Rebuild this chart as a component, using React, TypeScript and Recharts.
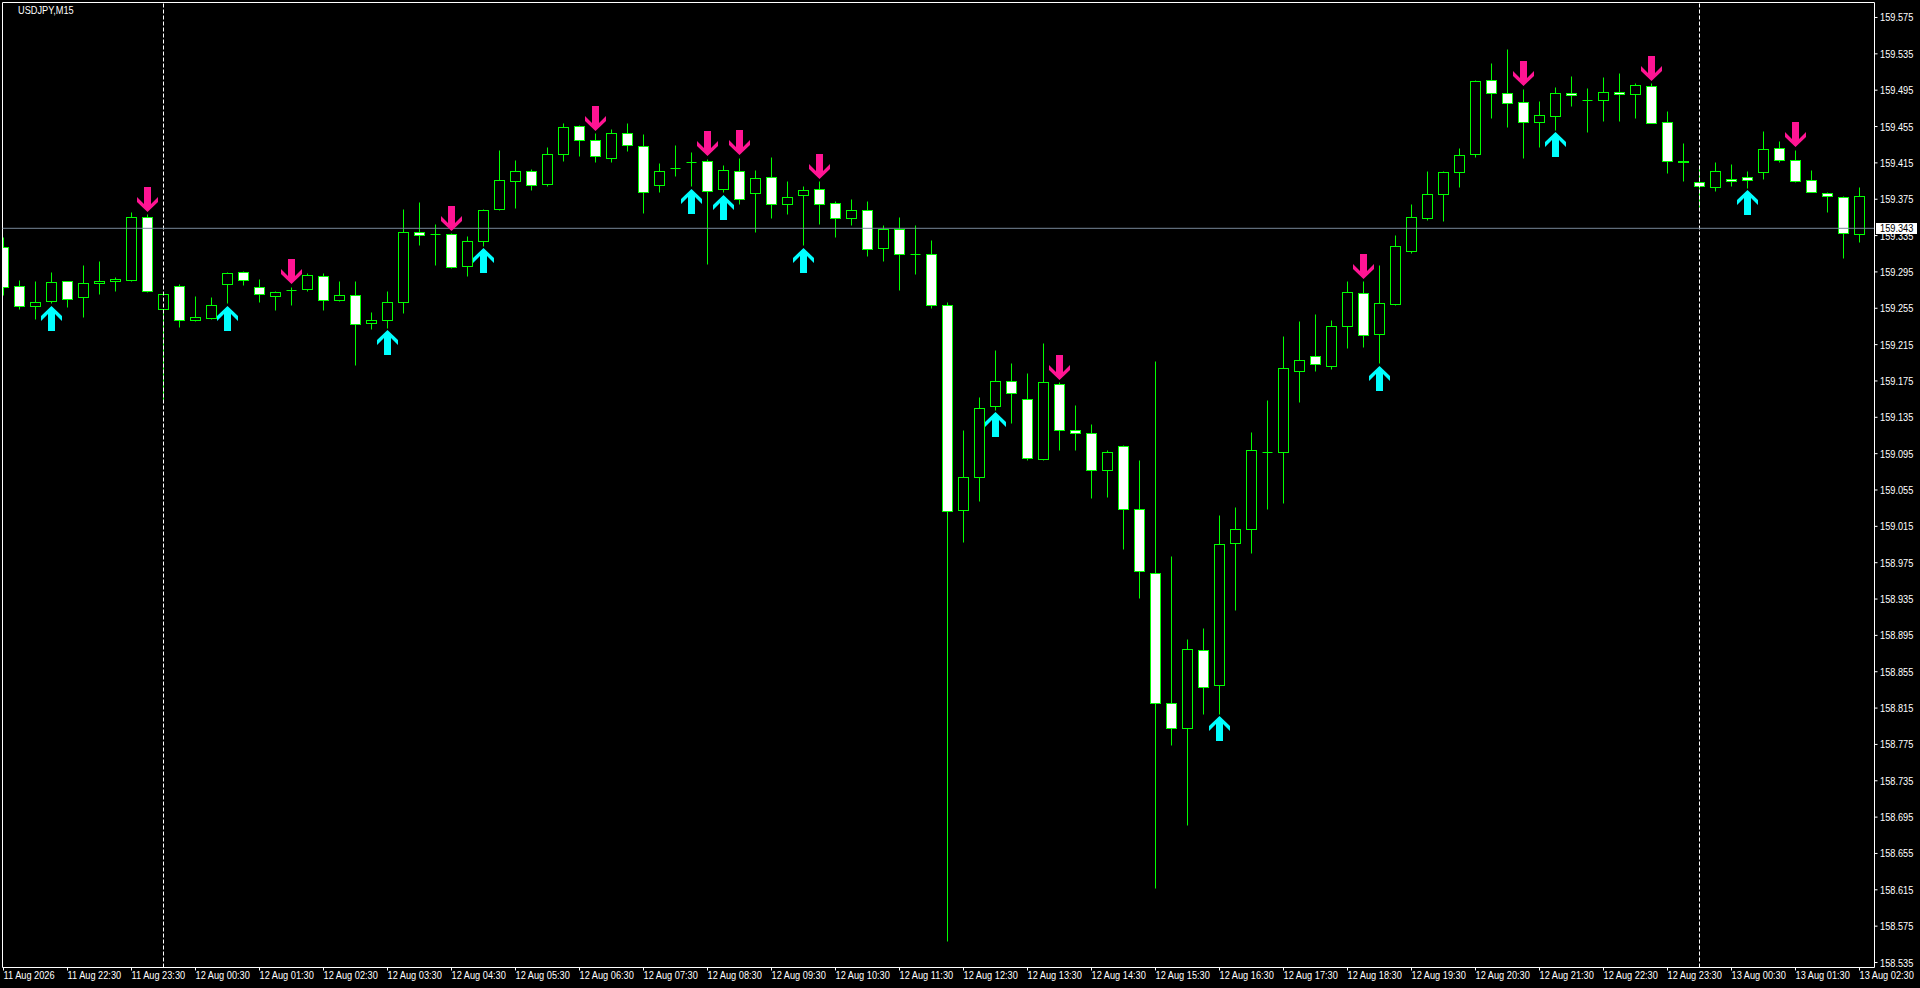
import React from 'react';
import { ComposedChart, Bar, Scatter, XAxis, YAxis, ReferenceLine } from 'recharts';

// USDJPY M15, 11 Aug 21:30 .. 13 Aug 02:30 (one entry per bar)
const OPEN = [
  159.322, 159.279, 159.257, 159.262, 159.284, 159.267, 159.282, 159.285, 159.286, 159.355,
  159.254, 159.279, 159.242, 159.244, 159.281, 159.294, 159.278, 159.268, 159.275, 159.276,
  159.290, 159.264, 159.269, 159.238, 159.241, 159.261, 159.338, 159.336, 159.336, 159.301,
  159.329, 159.364, 159.395, 159.405, 159.391, 159.424, 159.455, 159.440, 159.420, 159.447,
  159.433, 159.390, 159.409, 159.415, 159.416, 159.386, 159.405, 159.381, 159.399, 159.369,
  159.379, 159.386, 159.370, 159.354, 159.363, 159.321, 159.342, 159.314, 159.314, 159.258,
  159.032, 159.069, 159.147, 159.174, 159.155, 159.089, 159.171, 159.120, 159.117, 159.076,
  159.103, 159.033, 158.963, 158.820, 158.793, 158.878, 158.840, 158.996, 159.011, 159.096,
  159.096, 159.185, 159.202, 159.191, 159.235, 159.271, 159.226, 159.259, 159.317, 159.354,
  159.380, 159.404, 159.424, 159.506, 159.491, 159.481, 159.459, 159.466, 159.491, 159.484,
  159.484, 159.492, 159.490, 159.499, 159.459, 159.417, 159.393, 159.388, 159.397, 159.399,
  159.404, 159.431, 159.418, 159.396, 159.381, 159.377, 159.336,
];
const HIGH = [
  159.333, 159.286, 159.284, 159.294, 159.285, 159.302, 159.306, 159.289, 159.360, 159.358,
  159.271, 159.281, 159.268, 159.267, 159.294, 159.295, 159.287, 159.273, 159.278, 159.293,
  159.293, 159.284, 159.284, 159.250, 159.273, 159.364, 159.371, 159.347, 159.337, 159.334,
  159.364, 159.429, 159.418, 159.408, 159.432, 159.458, 159.456, 159.447, 159.452, 159.458,
  159.446, 159.414, 159.434, 159.426, 159.419, 159.412, 159.420, 159.407, 159.421, 159.394,
  159.389, 159.394, 159.373, 159.375, 159.372, 159.346, 159.355, 159.346, 159.330, 159.261,
  159.120, 159.157, 159.208, 159.194, 159.183, 159.216, 159.173, 159.148, 159.127, 159.098,
  159.104, 159.087, 159.196, 158.982, 158.890, 158.903, 159.027, 159.036, 159.118, 159.154,
  159.224, 159.240, 159.248, 159.242, 159.285, 159.284, 159.302, 159.335, 159.369, 159.406,
  159.405, 159.431, 159.506, 159.524, 159.540, 159.496, 159.483, 159.498, 159.510, 159.497,
  159.509, 159.513, 159.502, 159.502, 159.472, 159.436, 159.412, 159.415, 159.413, 159.406,
  159.450, 159.439, 159.429, 159.407, 159.382, 159.378, 159.388,
];
const LOW = [
  159.269, 159.254, 159.243, 159.260, 159.256, 159.245, 159.270, 159.274, 159.284, 159.272,
  159.153, 159.234, 159.240, 159.243, 159.260, 159.280, 159.261, 159.253, 159.258, 159.274,
  159.253, 159.262, 159.192, 159.232, 159.233, 159.249, 159.324, 159.302, 159.299, 159.290,
  159.323, 159.363, 159.365, 159.385, 159.389, 159.417, 159.422, 159.415, 159.415, 159.427,
  159.359, 159.382, 159.400, 159.389, 159.303, 159.382, 159.369, 159.338, 159.354, 159.358,
  159.324, 159.347, 159.333, 159.346, 159.312, 159.307, 159.275, 159.292, 159.255, 158.558,
  158.997, 159.042, 159.143, 159.128, 159.087, 159.088, 159.098, 159.099, 159.046, 159.047,
  158.989, 158.936, 158.616, 158.774, 158.686, 158.808, 158.808, 158.922, 158.985, 159.034,
  159.040, 159.151, 159.185, 159.188, 159.211, 159.212, 159.194, 159.258, 159.315, 159.352,
  159.350, 159.388, 159.421, 159.464, 159.454, 159.420, 159.432, 159.451, 159.477, 159.448,
  159.461, 159.460, 159.464, 159.458, 159.403, 159.395, 159.366, 159.384, 159.389, 159.387,
  159.397, 159.415, 159.393, 159.382, 159.360, 159.310, 159.327,
];
const CLOSE = [
  159.278, 159.257, 159.261, 159.283, 159.265, 159.282, 159.285, 159.287, 159.355, 159.274,
  159.270, 159.242, 159.245, 159.258, 159.293, 159.286, 159.270, 159.272, 159.275, 159.291,
  159.264, 159.269, 159.237, 159.241, 159.261, 159.338, 159.335, 159.336, 159.300, 159.328,
  159.363, 159.396, 159.406, 159.390, 159.424, 159.454, 159.440, 159.422, 159.447, 159.434,
  159.382, 159.406, 159.409, 159.415, 159.384, 159.407, 159.375, 159.398, 159.369, 159.377,
  159.385, 159.369, 159.354, 159.363, 159.320, 159.342, 159.314, 159.314, 159.258, 159.031,
  159.069, 159.145, 159.174, 159.161, 159.090, 159.173, 159.120, 159.117, 159.077, 159.096,
  159.033, 158.965, 158.820, 158.793, 158.879, 158.838, 158.995, 159.012, 159.098, 159.096,
  159.189, 159.197, 159.193, 159.235, 159.272, 159.225, 159.260, 159.323, 159.355, 159.380,
  159.404, 159.423, 159.505, 159.491, 159.480, 159.459, 159.467, 159.491, 159.489, 159.484,
  159.493, 159.490, 159.500, 159.458, 159.416, 159.415, 159.389, 159.405, 159.395, 159.396,
  159.430, 159.418, 159.395, 159.382, 159.378, 159.337, 159.378,
];

// signal arrows (bar index)
const UP_ARROWS = [3, 14, 24, 30, 43, 45, 50, 62, 76, 86, 97, 109];
const DOWN_ARROWS = [9, 18, 28, 37, 44, 46, 51, 66, 85, 95, 103, 112];

// one label every 4 bars
const TIME_LABELS = [
  '11 Aug 2026', '11 Aug 22:30', '11 Aug 23:30', '12 Aug 00:30', '12 Aug 01:30', '12 Aug 02:30',
  '12 Aug 03:30', '12 Aug 04:30', '12 Aug 05:30', '12 Aug 06:30', '12 Aug 07:30', '12 Aug 08:30',
  '12 Aug 09:30', '12 Aug 10:30', '12 Aug 11:30', '12 Aug 12:30', '12 Aug 13:30', '12 Aug 14:30',
  '12 Aug 15:30', '12 Aug 16:30', '12 Aug 17:30', '12 Aug 18:30', '12 Aug 19:30', '12 Aug 20:30',
  '12 Aug 21:30', '12 Aug 22:30', '12 Aug 23:30', '13 Aug 00:30', '13 Aug 01:30', '13 Aug 02:30',
];

const PRICE_TICKS = [
  159.575, 159.535, 159.495, 159.455, 159.415, 159.375, 159.335, 159.295, 159.255,
  159.215, 159.175, 159.135, 159.095, 159.055, 159.015, 158.975, 158.935, 158.895,
  158.855, 158.815, 158.775, 158.735, 158.695, 158.655, 158.615, 158.575, 158.535,
];

const DAY_SEPARATORS = [10, 106];
const BID = 159.343;

const PRICE_MIN = 158.5295;
const PRICE_MAX = 159.5915;
const X_MIN = -0.0625;
const X_MAX = 116.9375;

const FONT = "'Liberation Sans', Arial, sans-serif";
const GREEN = '#00FF00';

const candles = OPEN.map((o, i) => ({
  i,
  o,
  h: HIGH[i],
  l: LOW[i],
  c: CLOSE[i],
  range: [LOW[i], HIGH[i]],
}));

const upData = UP_ARROWS.map((i) => ({ i, p: LOW[i] }));
const downData = DOWN_ARROWS.map((i) => ({ i, p: HIGH[i] }));
const tickIndex = TIME_LABELS.map((_, k) => k * 4);

const snap = (v: number) => Math.round(v - 0.5) + 0.5;

// terminal-like narrow text
const SText = ({ x, y, fill = '#FFFFFF', children }: any) => (
  <text
    transform={`translate(${x},${y}) scale(0.84,1)`}
    x={0}
    y={0}
    fill={fill}
    fontSize={11}
    fontFamily={FONT}
    textAnchor="start"
  >
    {children}
  </text>
);

const Candle = (props: any) => {
  const { x, y, width, height, payload } = props;
  if (!payload || height == null) return null;
  const top = height >= 0 ? y : y + height;
  const h = Math.abs(height);
  const cx = Math.floor(x + width / 2) + 0.5;
  const py = (p: number) => top + ((payload.h - p) / (payload.h - payload.l)) * h;
  const bull = payload.c > payload.o;
  const bTop = snap(py(Math.max(payload.o, payload.c)));
  const bBot = snap(py(Math.min(payload.o, payload.c)));
  return (
    <g>
      <line x1={cx} x2={cx} y1={snap(top)} y2={snap(top + h)} stroke={GREEN} strokeWidth={1} />
      {bBot - bTop < 1 ? (
        <line x1={cx - 5} x2={cx + 5} y1={bTop} y2={bTop} stroke={GREEN} strokeWidth={1} />
      ) : (
        <rect
          x={cx - 5}
          y={bTop}
          width={10}
          height={bBot - bTop}
          fill={bull ? '#000000' : '#FFFFFF'}
          stroke={GREEN}
          strokeWidth={1}
        />
      )}
    </g>
  );
};

const arrowPoints = (cx: number, tip: number, dir: number) => {
  const pts = [
    [0, 0], [10.5, 10], [10.5, 15], [3.5, 8], [3.5, 25],
    [-3.5, 25], [-3.5, 8], [-10.5, 15], [-10.5, 10],
  ];
  return pts.map(([dx, dy]) => `${cx + dx},${tip + dir * dy}`).join(' ');
};

const UpArrow = (props: any) => {
  const { cx, cy } = props;
  if (cx == null || cy == null) return null;
  const c = Math.floor(cx) + 0.5;
  return <polygon points={arrowPoints(c, Math.round(cy) + 2, 1)} fill="#00FFFF" />;
};

const DownArrow = (props: any) => {
  const { cx, cy } = props;
  if (cx == null || cy == null) return null;
  const c = Math.floor(cx) + 0.5;
  return <polygon points={arrowPoints(c, Math.round(cy) - 3, -1)} fill="#FF1493" />;
};

const TimeTick = (props: any) => {
  const { x, payload } = props;
  const label = TIME_LABELS[Math.round(payload.value / 4)];
  return <SText x={x} y={979}>{label}</SText>;
};

const PriceTick = (props: any) => {
  const { y, payload } = props;
  return <SText x={1880} y={y + 4}>{Number(payload.value).toFixed(3)}</SText>;
};

const BidTag = (props: any) => {
  const vb = props.viewBox || {};
  const yy = vb.y ?? 228;
  return (
    <g>
      <rect x={1876} y={Math.round(yy) - 5} width={41} height={11} fill="#FFFFFF" />
      <SText x={1880} y={yy + 4} fill="#000000">{BID.toFixed(3)}</SText>
    </g>
  );
};

export default function App() {
  return (
    <div style={{ position: 'absolute', left: 0, top: 0, width: 1920, height: 988, background: '#000000' }}>
      <ComposedChart
        width={1920}
        height={988}
        data={candles}
        margin={{ top: 2.5, left: 2.5, right: 0, bottom: 0 }}
        style={{ background: '#000000' }}
      >
        <XAxis
          dataKey="i"
          type="number"
          domain={[X_MIN, X_MAX]}
          allowDataOverflow
          ticks={tickIndex}
          interval={0}
          height={20.5}
          tickSize={3}
          axisLine={{ stroke: '#FFFFFF' }}
          tickLine={{ stroke: '#FFFFFF' }}
          tick={<TimeTick />}
        />
        <YAxis
          orientation="right"
          type="number"
          domain={[PRICE_MIN, PRICE_MAX]}
          allowDataOverflow
          ticks={PRICE_TICKS}
          interval={0}
          width={45.5}
          tickSize={3}
          axisLine={{ stroke: '#FFFFFF' }}
          tickLine={{ stroke: '#FFFFFF' }}
          tick={<PriceTick />}
        />
        <ReferenceLine x={X_MIN} stroke="#FFFFFF" />
        <ReferenceLine y={PRICE_MAX} stroke="#FFFFFF" />
        {DAY_SEPARATORS.map((d) => (
          <ReferenceLine key={d} x={d} stroke="#FFFFFF" strokeDasharray="4 2" />
        ))}
        <ReferenceLine y={BID} stroke="#778899" label={<BidTag />} />
        <Bar dataKey="range" barSize={12} shape={<Candle />} isAnimationActive={false} />
        <Scatter data={upData} dataKey="p" shape={<UpArrow />} isAnimationActive={false} />
        <Scatter data={downData} dataKey="p" shape={<DownArrow />} isAnimationActive={false} />
      </ComposedChart>
      <svg width={200} height={20} style={{ position: 'absolute', left: 0, top: 0 }}>
        <SText x={18} y={14}>USDJPY,M15</SText>
      </svg>
    </div>
  );
}
